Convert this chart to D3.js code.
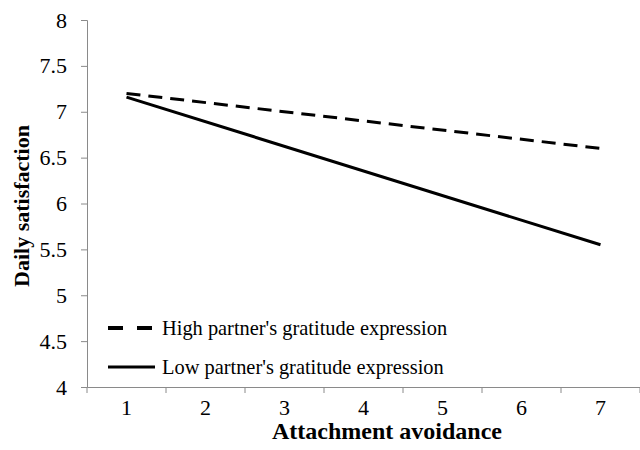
<!DOCTYPE html>
<html><head><meta charset="utf-8">
<script src="https://cdn.jsdelivr.net/npm/d3@7"></script>
<style>body{margin:0;background:#fff}svg{display:block}</style>
</head><body><svg id="c" width="640" height="450"></svg>
<script>
const categories = ["1","2","3","4","5","6","7"];
const yTicks = [4,4.5,5,5.5,6,6.5,7,7.5,8];
const highX = ["1","7"];
const highY = [7.20, 6.60];
const lowX = ["1","7"];
const lowY = [7.16, 5.55];
const seriesNames = ["High partner's gratitude expression","Low partner's gratitude expression"];
const xTitle = "Attachment avoidance";
const yTitle = "Daily satisfaction";

const FONT = "Liberation Serif";
const svg = d3.select("#c");
const m = {l:87, r:0, t:20, b:63};
const W = 640, H = 450;
const x = d3.scaleBand().domain(categories).range([m.l, W - m.r]);
const y = d3.scaleLinear().domain([4,8]).range([H - m.b, m.t]);
const axisColor = "#8a8a8a";

// y axis
const ya = svg.append("g").attr("transform",`translate(${m.l},0)`)
  .call(d3.axisLeft(y).tickValues(yTicks).tickSize(6).tickPadding(14).tickFormat(d3.format("")));
ya.select(".domain").attr("stroke",axisColor);
ya.selectAll(".tick line").attr("stroke",axisColor);
ya.selectAll(".tick text").style("font-family",FONT).attr("font-size",22).attr("fill","#000");

// x axis
const xa = svg.append("g").attr("transform",`translate(0,${H - m.b})`)
  .call(d3.axisBottom(x).tickSize(0).tickPadding(12).tickSizeOuter(0));
xa.select(".domain").attr("stroke",axisColor);
xa.selectAll(".tick text").style("font-family",FONT).attr("font-size",22).attr("fill","#000");
// band boundary ticks
const bounds = categories.map(c => x(c)).concat([x(categories[categories.length-1]) + x.bandwidth()]);
svg.append("g").selectAll("line").data(bounds).join("line")
  .attr("x1",d=>d).attr("x2",d=>d).attr("y1",H-m.b).attr("y2",H-m.b+6)
  .attr("stroke",axisColor);

// titles
svg.append("text").attr("x",387).attr("y",439).attr("text-anchor","middle")
  .style("font-family",FONT).attr("font-size",24).attr("font-weight","bold").text(xTitle);
svg.append("text").attr("transform",`translate(29,206) rotate(-90)`)
  .attr("text-anchor","middle").style("font-family",FONT)
  .attr("font-size",22).attr("font-weight","bold").text(yTitle);

// lines
const cx = c => x(c) + x.bandwidth()/2;
const line = d3.line().x(d=>cx(d[0])).y(d=>y(d[1]));
svg.append("path").datum(d3.zip(highX, highY)).attr("d",line)
  .attr("fill","none").attr("stroke","#000").attr("stroke-width",3).attr("stroke-dasharray","14,8");
svg.append("path").datum(d3.zip(lowX, lowY)).attr("d",line)
  .attr("fill","none").attr("stroke","#000").attr("stroke-width",3);

// legend
const lg = svg.append("g");
const ly = [328, 367];
lg.append("line").attr("x1",108).attr("x2",153).attr("y1",ly[0]).attr("y2",ly[0])
  .attr("stroke","#000").attr("stroke-width",4).attr("stroke-dasharray","15,14");
lg.append("line").attr("x1",108).attr("x2",155).attr("y1",ly[1]).attr("y2",ly[1])
  .attr("stroke","#000").attr("stroke-width",3);
seriesNames.forEach((s,i)=>{
  lg.append("text").attr("x",162).attr("y",ly[i]+7).style("font-family",FONT)
    .attr("font-size",20.4).text(s);
});
</script></body></html>
